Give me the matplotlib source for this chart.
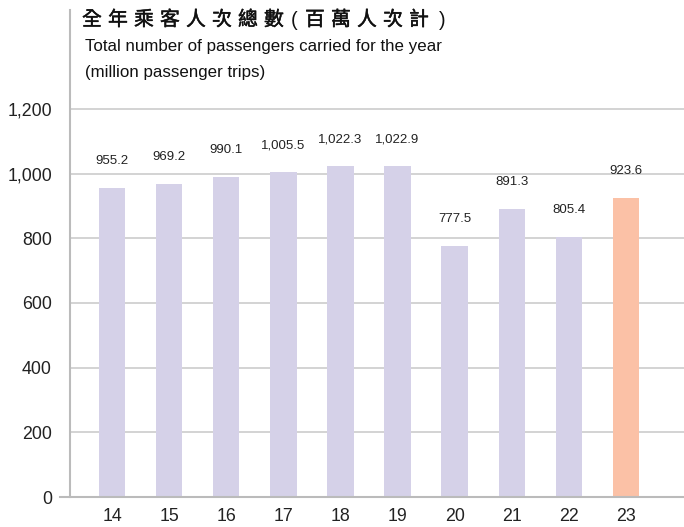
import matplotlib
matplotlib.use("Agg")
from matplotlib import pyplot as plt
from matplotlib.lines import Line2D
import matplotlib.patheffects as pe

years = ["14", "15", "16", "17", "18", "19", "20", "21", "22", "23"]
passengers = [955.2, 969.2, 990.1, 1005.5, 1022.3, 1022.9, 777.5, 891.3, 805.4, 923.6]
value_labels = ["955.2", "969.2", "990.1", "1,005.5", "1,022.3", "1,022.9", "777.5", "891.3", "805.4", "923.6"]
y_ticks = [0, 200, 400, 600, 800, 1000, 1200]
y_tick_labels = ["0", "200", "400", "600", "800", "1,000", "1,200"]

title_zh = "全年乘客人次總數(百萬人次計)"
title_en1 = "Total number of passengers carried for the year"
title_en2 = "(million passenger trips)"

W, H = 684, 527
fig = plt.figure(figsize=(W / 100, H / 100), dpi=100)
ax = fig.add_axes([70 / W, 30 / H, 1 - 70 / W, 487 / H])

bar_color = "#d5d1e8"
last_color = "#fbc1a6"
colors = [bar_color] * (len(years) - 1) + [last_color]
x = list(range(len(years)))
ax.bar(x, passengers, width=0.46, color=colors, zorder=2)

# value labels above bars
for i, v in enumerate(passengers):
    ax.annotate(value_labels[i], (i, v), xytext=(0, 15), textcoords="offset points",
                ha="center", va="bottom", fontsize=9.5, color="#222222",
                family="Liberation Sans")

ax.set_xlim(-0.74, len(years) - 1 + 1.02)
ax.set_ylim(0, 1506)
ax.set_yticks(y_ticks)
ax.set_yticklabels(y_tick_labels)
ax.set_xticks(x)
ax.set_xticklabels(years)
ax.tick_params(axis="both", length=0, labelsize=12.8, colors="#222222")
ax.tick_params(axis="y", pad=13)
ax.tick_params(axis="x", pad=8)
for lab in ax.get_xticklabels() + ax.get_yticklabels():
    lab.set_family("Liberation Sans")

for t in y_ticks[1:]:
    ax.axhline(t, color="#cccccc", lw=1.2, zorder=1)

for s in ["top", "right", "bottom"]:
    ax.spines[s].set_visible(False)
ax.spines["left"].set_color("#bbbbbb")
ax.spines["left"].set_linewidth(1.5)

# baseline extends a little left of the y axis
fig.add_artist(Line2D([60 / W, 1], [30 / H, 30 / H], color="#bbbbbb", lw=1.5))

# titles: chinese title drawn char by char for the wide letter spacing
thick = [pe.withStroke(linewidth=0.35, foreground="#111111")]
xpos = 82
for ch in title_zh:
    if ch == "(":
        fig.text((xpos + 1) / W, 1 - 21 / H, ch, ha="left", va="center",
                 fontsize=14.5, color="#111111", family="Liberation Sans")
        xpos += 15
    elif ch == ")":
        fig.text((xpos + 4) / W, 1 - 21 / H, ch, ha="left", va="center",
                 fontsize=14.5, color="#111111", family="Liberation Sans")
    else:
        fig.text(xpos / W, 1 - 20 / H, ch, ha="left", va="center",
                 fontsize=14.3, color="#111111", path_effects=thick,
                 family=["Noto Sans CJK TC", "DejaVu Sans"])
        xpos += 26
fig.text(85 / W, 1 - 47 / H, title_en1, ha="left", va="center", fontsize=12.2,
         color="#111111", family="Liberation Sans")
fig.text(85 / W, 1 - 72 / H, title_en2, ha="left", va="center", fontsize=12.2,
         color="#111111", family="Liberation Sans")

fig.savefig("out.png", dpi=100)
